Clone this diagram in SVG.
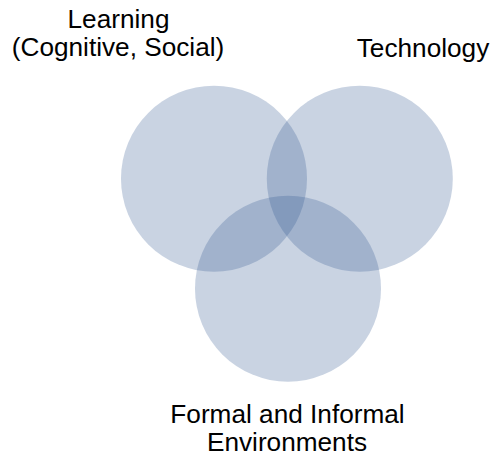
<svg xmlns="http://www.w3.org/2000/svg" width="495" height="456" viewBox="0 0 495 456">
<style>
.c{fill:#2f568f;fill-opacity:0.26;stroke:none}
.t{font-family:"Liberation Sans",Arial,sans-serif;font-size:26.2px;fill:#000;text-anchor:middle}
</style>
<rect width="495" height="456" fill="#fff"/>
<g id="learning">
<circle class="c" cx="214" cy="178.7" r="93"/>
<text class="t" x="118.5" y="28">Learning</text>
<text class="t" x="118" y="55.5">(Cognitive, Social)</text>
</g>
<g id="technology">
<circle class="c" cx="359.8" cy="178.7" r="93"/>
<text class="t" x="423" y="56.7">Technology</text>
</g>
<g id="environments">
<circle class="c" cx="288" cy="288.7" r="93"/>
<text class="t" x="287.5" y="423.3">Formal and Informal</text>
<text class="t" x="287" y="451">Environments</text>
</g>
<g id="connectors"></g>
</svg>
